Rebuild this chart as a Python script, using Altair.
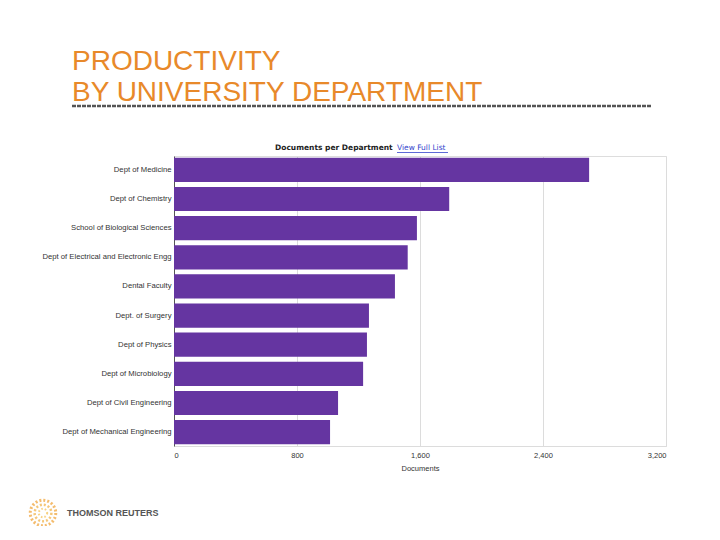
import altair as alt
import pandas as pd

departments = [
    "Dept of Medicine",
    "Dept of Chemistry",
    "School of Biological Sciences",
    "Dept of Electrical and Electronic Engg",
    "Dental Faculty",
    "Dept. of Surgery",
    "Dept of Physics",
    "Dept of Microbiology",
    "Dept of Civil Engineering",
    "Dept of Mechanical Engineering",
]
documents = [2700, 1790, 1580, 1520, 1437, 1268, 1255, 1230, 1067, 1015]
x_ticks = [0, 800, 1600, 2400, 3200]

df = pd.DataFrame({"Department": departments, "Documents": documents})
one = pd.DataFrame({"k": [0]})

W, H = 492, 290

bars = alt.Chart(df).mark_bar(color="#6535A1").encode(
    y=alt.Y("Department:N", sort=departments, title=None,
            scale=alt.Scale(paddingInner=0.17, paddingOuter=0.06),
            axis=alt.Axis(labelFont="Liberation Sans", labelFontSize=7.7, labelColor="#333",
                          ticks=False, domainColor="#555", labelPadding=3)),
    x=alt.X("Documents:Q", title="Documents",
            scale=alt.Scale(domain=[0, 3200], nice=False),
            axis=alt.Axis(values=x_ticks, format=",d", labelFont="Liberation Sans",
                          labelFontSize=7.5, labelColor="#333", ticks=False,
                          gridColor="#dcdcdc", domainColor="#dcdcdc",
                          titleFont="Liberation Sans", titleFontSize=7.5,
                          titleFontWeight="normal", titleColor="#333",
                          labelPadding=5, titlePadding=6)),
)

def txt(text, x, y, **kw):
    return alt.Chart(one).mark_text(**kw).encode(
        x=alt.value(x), y=alt.value(y), text=alt.value(text))

title1 = txt("PRODUCTIVITY", -102, -86, font="Liberation Sans", fontSize=28,
             color="#E8892A", align="left", baseline="alphabetic")
title2 = txt("BY UNIVERSITY DEPARTMENT", -102, -55, font="Liberation Sans", fontSize=28,
             color="#E8892A", align="left", baseline="alphabetic")
dash = alt.Chart(one).mark_rule(color="#555", strokeWidth=2.5, strokeDash=[4, 1]).encode(
    x=alt.value(-102), x2=alt.value(478), y=alt.value(-50))

head = txt("Documents per Department", 101, -8, font="DejaVu Sans", fontSize=7.5,
           fontWeight="bold", color="#222", align="left", baseline="middle")
link = txt("View Full List", 223, -8, font="DejaVu Sans", fontSize=7.5,
           color="#3344CC", align="left", baseline="middle")
underline = alt.Chart(one).mark_rule(color="#3344CC", strokeWidth=0.8).encode(
    x=alt.value(223), x2=alt.value(274), y=alt.value(-3.5))

logo_text = txt("THOMSON REUTERS", -107, 357, font="Liberation Sans", fontSize=9,
                fontWeight="bold", color="#555", align="left", baseline="middle")
ring1 = alt.Chart(one).mark_point(shape="circle", filled=False, color="#F0A030",
                                  strokeWidth=3, strokeDash=[2, 2], size=650).encode(
    x=alt.value(-131), y=alt.value(357))
ring2 = alt.Chart(one).mark_point(shape="circle", filled=False, color="#F2B040",
                                  strokeWidth=2.5, strokeDash=[2, 2], size=280).encode(
    x=alt.value(-131), y=alt.value(357))
ring3 = alt.Chart(one).mark_point(shape="circle", filled=False, color="#F5C050",
                                  strokeWidth=2, strokeDash=[1.5, 2], size=70).encode(
    x=alt.value(-131), y=alt.value(357))

chart = alt.layer(
    bars, title1, title2, dash, head, link, underline, logo_text, ring1, ring2, ring3
).properties(
    width=W, height=H,
    autosize=alt.AutoSizeParams(type="none"),
    padding={"left": 166, "top": 148, "right": 40, "bottom": 80},
).configure_view(stroke=None).configure(background="white")

chart.save("out.html", embed_options={"renderer": "svg", "actions": False})
